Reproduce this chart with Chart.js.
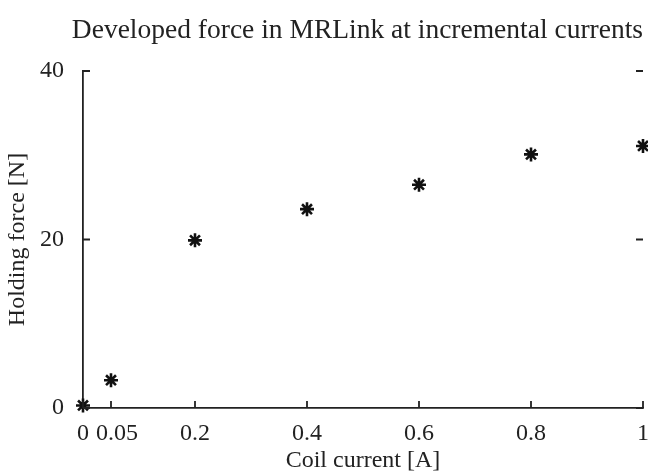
<!DOCTYPE html>
<html lang="en">
  <head>
    <meta charset="utf-8">
    <title>Developed force in MRLink</title>
    <style> body {padding: 0; margin: 0; background: #fff;} </style>
    <script src="https://cdn.jsdelivr.net/npm/chart.js@4.4.1/dist/chart.umd.min.js"></script>
  </head>
  <body>
    <div style="position: relative; width:648px; height:471px">
      <canvas id="forceChart"></canvas>
    </div>
    <script>

      var current = [0, 0.05, 0.2, 0.4, 0.6, 0.8, 1];
      var force = [0.3, 3.3, 19.9, 23.6, 26.5, 30.1, 31.1];
      var xTicks = [0, 0.05, 0.2, 0.4, 0.6, 0.8, 1];
      var yTicks = [0, 20, 40];

      var serif = "'Liberation Serif', 'Times New Roman', serif";
      var ink = '#222';

      var points = [];
      for (var i = 0; i < current.length; i++) {
        points.push({x: current[i], y: force[i]});
      }

      // matlab style: ticks point inwards, mirror ticks on the right
      var inwardTicks = {
        id: 'inwardTicks',
        afterDraw: function(chart) {
          var ctx = chart.ctx;
          var xs = chart.scales.x;
          var ys = chart.scales.y;
          var a = chart.chartArea;
          var len = 7;
          ctx.save();
          ctx.strokeStyle = ink;
          ctx.lineWidth = 1.8;
          ctx.beginPath();
          xTicks.forEach(function(v) {
            var px = xs.getPixelForValue(v);
            ctx.moveTo(px, a.bottom);
            ctx.lineTo(px, a.bottom - len);
          });
          yTicks.forEach(function(v) {
            var py = ys.getPixelForValue(v);
            ctx.moveTo(a.left, py);
            ctx.lineTo(a.left + len, py);
            ctx.moveTo(a.right - len, py);
            ctx.lineTo(a.right, py);
          });
          ctx.stroke();
          ctx.restore();
        }
      };

      var ctx = document.getElementById('forceChart').getContext('2d');
      var myChart = new Chart(ctx, {
        type: 'scatter',
        data: {
          datasets: [{
            label: 'Holding force',
            data: points,
            pointStyle: 'star',
            pointRadius: 7,
            pointHoverRadius: 7,
            borderWidth: 2.6,
            borderColor: '#111',
            backgroundColor: '#111',
            clip: false
          }]
        },
        options: {
          responsive: true,
          maintainAspectRatio: false,
          animation: false,
          layout: { autoPadding: false, padding: { left: 0, right: 5, top: 0, bottom: 0 } },
          plugins: {
            legend: { display: false },
            tooltip: { enabled: false },
            title: {
              display: true,
              text: 'Developed force in MRLink at incremental currents',
              color: ink,
              align: 'end',
              font: { family: serif, size: 27.5, weight: 'normal' },
              padding: { top: 14, bottom: 24 }
            }
          },
          scales: {
            x: {
              type: 'linear',
              min: 0,
              max: 1,
              afterBuildTicks: function(scale) {
                scale.ticks = xTicks.map(function(v) { return {value: v}; });
              },
              afterFit: function(scale) {
                scale.height = 63;
                scale.paddingLeft = 0;
                scale.paddingRight = 0;
              },
              grid: { drawOnChartArea: false, drawTicks: false },
              border: { display: true, color: ink, width: 1.8 },
              ticks: {
                color: ink,
                padding: 11,
                maxRotation: 0,
                autoSkip: false,
                font: { family: serif, size: 24 },
                callback: function(v) { return v === 0.05 ? '  0.05' : String(v); }
              },
              title: {
                display: true,
                text: 'Coil current [A]',
                color: ink,
                font: { family: serif, size: 24, lineHeight: 0.85 },
                padding: { top: 0, bottom: 0 }
              }
            },
            y: {
              min: 0,
              max: 40,
              afterBuildTicks: function(scale) {
                scale.ticks = yTicks.map(function(v) { return {value: v}; });
              },
              afterFit: function(scale) { scale.width = 83; },
              grid: { drawOnChartArea: false, drawTicks: false },
              border: { display: true, color: ink, width: 1.8 },
              ticks: {
                color: ink,
                padding: 19,
                font: { family: serif, size: 24 }
              },
              title: {
                display: true,
                text: 'Holding force [N]',
                color: ink,
                font: { family: serif, size: 24, lineHeight: 1.5 },
                padding: { top: 0, bottom: 0 }
              }
            }
          }
        },
        plugins: [inwardTicks]
      });
    </script>
  </body>
</html>
